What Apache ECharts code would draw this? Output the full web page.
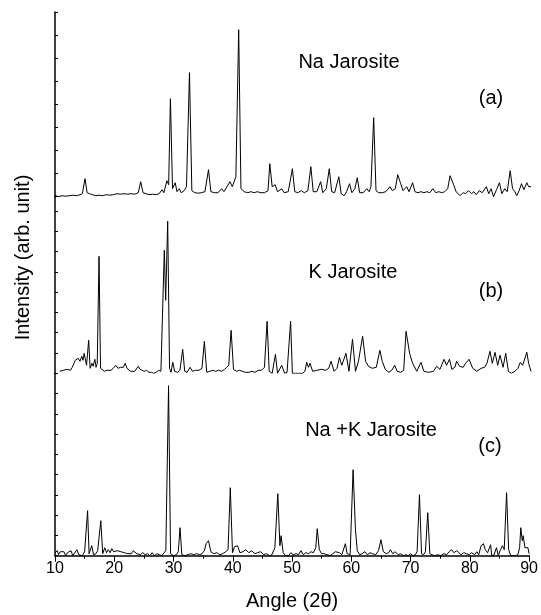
<!DOCTYPE html>
<html>
<head>
<meta charset="utf-8">
<script src="https://cdn.jsdelivr.net/npm/echarts@6/dist/echarts.min.js"></script>
<style>
  html, body { margin: 0; padding: 0; background: #fff; }
  #chart { width: 541px; height: 615px; }
</style>
</head>
<body>
<div id="chart"></div>
<script>
// x-ray diffraction patterns, [angle 2theta, intensity (arb.)]
const naJarosite = [
  [10.0,1],[10.6,0],[11.2,1],[11.8,0.5],[12.4,1],[13.0,1.5],[13.6,1],[14.2,2],[14.6,3],[15.04,18],[15.4,4],[15.8,3],
  [16.3,2],[16.8,1],[17.4,1.5],[18.0,1],[18.6,2],[19.2,1.5],[19.8,2],[20.4,3],[21.0,2.5],[21.6,3],[22.2,2.5],[22.8,3],
  [23.4,2.5],[24.0,4],[24.4,15],[24.8,4],[25.3,3],[25.8,2],[26.4,2.5],[27.0,2],[27.5,3],[28.0,7],[28.3,4],[28.8,16],
  [29.1,12],[29.4,98],[29.75,8],[30.2,14],[30.5,5],[30.9,8],[31.2,4],[31.7,6],[32.1,10],[32.6,124],[33.0,6],[33.5,4],
  [34.0,3.5],[34.6,4],[35.2,5],[35.8,27],[36.2,5],[36.8,4],[37.4,4],[38.0,8],[38.4,5],[38.9,10],[39.4,15],[39.8,10],
  [40.4,20],[40.87,167],[41.25,8],[41.8,5],[42.4,4],[42.9,5],[43.5,4],[44.0,5],[44.6,4],[45.2,4],[45.8,6],[46.1,33],
  [46.5,10],[47.0,12],[47.4,5],[48.1,8],[48.5,4],[49.2,5],[49.9,28],[50.3,5],[50.8,4],[51.4,6],[51.9,4],[52.5,6],
  [53.0,30],[53.4,5],[54.0,5],[54.65,15],[55.0,4],[55.6,8],[56.1,28],[56.5,5],[57.0,4],[57.7,20],[58.1,3],[58.6,1],
  [59.0,5],[59.5,13],[59.9,4],[60.4,8],[60.8,19],[61.2,4],[61.8,4],[62.4,8],[62.8,5],[63.1,10],[63.56,79],[63.95,6],
  [64.4,4],[65.0,4],[65.6,5],[66.3,10],[66.7,6],[67.2,8],[67.6,22],[68.1,13],[68.5,6],[69.1,10],[69.5,5],[70.1,14],
  [70.5,5],[71.0,4],[71.5,5],[72.0,4],[72.5,5],[73.0,4],[73.5,8],[74.0,4],[74.5,5],[75.0,4],[75.5,5],[76.0,8],
  [76.4,21],[77.0,12],[77.4,5],[78.1,1],[78.6,4],[79.0,3],[79.5,6],[80.0,3],[80.4,5],[80.8,2],[81.3,6],[81.8,4],
  [82.5,10],[82.9,3],[83.3,8],[83.7,0],[84.2,7],[84.7,14],[85.1,3],[85.6,8],[86.0,5],[86.5,26],[86.9,8],[87.3,5],
  [87.6,1],[88.0,6],[88.4,13],[88.8,7],[89.3,14],[89.6,10],[90.0,10]
];

const kJarosite = [
  [10.8,2],[11.1,1],[11.4,3],[11.7,1],[12.0,4],[12.3,2],[12.6,3],[12.9,6],[13.2,10],[13.4,13],[13.6,11],[13.9,15],
  [14.2,12],[14.5,17],[14.7,13],[14.9,20],[15.1,22],[15.3,8],[15.66,33],[15.9,5],[16.2,10],[16.4,7],[16.7,14],[16.9,6],
  [17.1,10],[17.4,117],[17.65,5],[17.9,3],[18.3,2],[18.7,3],[19.0,2],[19.4,3],[19.8,5],[20.2,8],[20.6,5],[21.0,6],
  [21.3,8],[21.5,6],[21.8,10],[22.1,5],[22.4,4],[22.7,2],[23.0,1],[23.4,2],[23.7,3],[24.0,7],[24.3,4],[24.6,5],
  [25.0,2],[25.4,3],[25.8,1],[26.2,1],[26.6,0],[27.0,1],[27.4,3],[27.8,2],[28.0,4],[28.37,123],[28.6,73],[28.94,152],
  [29.25,5],[29.5,1],[29.8,11],[30.1,2],[30.6,1],[31.0,3],[31.46,24],[31.8,2],[32.2,1],[32.7,6],[33.1,2],[33.6,3],
  [34.2,3],[34.7,5],[35.1,32],[35.5,1],[36.0,2],[36.5,3],[37.0,2],[37.5,3],[38.0,2],[38.5,4],[38.85,6],[39.2,8],
  [39.6,43],[40.0,4],[40.5,2],[41.0,3],[41.5,2],[42.0,1],[42.6,1],[43.1,2],[43.6,1],[44.2,3],[44.7,3],[45.2,6],
  [45.65,52],[46.0,2],[46.5,0],[47.05,19],[47.4,0],[48.1,8],[48.6,0],[49.0,1],[49.6,52],[49.9,0],[50.4,0],[51.0,0],
  [51.6,0],[52.0,2],[52.3,11],[52.6,6],[52.86,10],[53.3,2],[54.0,3],[54.8,4],[55.5,3],[56.0,5],[56.4,12],[56.9,2],
  [57.4,5],[57.8,16],[58.2,8],[58.9,20],[59.4,2],[60.0,34],[60.5,2],[61.0,12],[61.7,37],[62.2,12],[62.7,7],[63.3,5],
  [64.0,6],[64.6,23],[65.0,12],[65.5,4],[66.1,1],[66.6,3],[67.1,8],[67.5,2],[68.1,1],[68.6,3],[69.0,42],[69.6,20],
  [70.1,10],[70.8,2],[71.5,11],[72.0,2],[72.8,1],[73.6,2],[74.15,7],[74.7,4],[75.4,14],[75.8,8],[76.3,14],[76.7,4],
  [77.2,6],[77.5,12],[78.0,7],[78.6,6],[79.0,10],[79.6,14],[80.2,5],[80.9,2],[81.6,5],[82.2,6],[82.6,10],[83.1,22],
  [83.5,10],[83.95,21],[84.4,8],[84.8,18],[85.3,6],[85.75,20],[86.2,2],[86.7,0],[87.3,2],[87.8,5],[88.2,11],[88.6,8],
  [89.3,21],[89.6,10],[90.0,2]
];

const naKJarosite = [
  [10.0,3],[10.2,1],[10.4,5],[10.6,1],[10.9,4],[11.2,2],[11.5,4],[11.8,0],[12.1,3],[12.4,1],[12.7,5],[13.0,0],
  [13.3,2],[13.7,6],[14.0,1],[14.3,3],[14.6,0],[15.0,4],[15.3,6],[15.5,45],[15.75,2],[16.2,10],[16.5,1],[16.9,2],
  [17.2,5],[17.73,35],[18.05,2],[18.4,8],[18.7,3],[19.0,6],[19.3,3],[19.6,7],[19.9,4],[20.2,6],[20.5,5],[20.8,7],
  [21.1,4],[21.4,6],[21.7,3],[22.0,5],[22.3,2],[22.6,4],[22.9,2],[23.2,5],[23.5,3],[23.8,2],[24.1,4],[24.4,1],
  [24.8,3],[25.2,1],[25.6,2],[26.0,0],[26.4,3],[26.8,0],[27.2,2],[27.6,1],[28.0,0],[28.3,2],[28.7,5],[29.16,170],
  [29.5,2],[30.0,0],[30.5,1],[30.8,4],[31.1,28],[31.4,1],[31.9,0],[32.4,1],[32.9,2],[33.4,1],[33.9,2],[34.4,1],
  [34.8,2],[35.2,5],[35.5,12],[35.9,15],[36.3,4],[36.8,2],[37.3,3],[37.8,1],[38.3,2],[38.8,4],[39.2,6],[39.58,68],
  [39.95,3],[40.3,9],[40.8,10],[41.2,3],[41.7,4],[42.2,6],[42.7,3],[43.2,5],[43.7,2],[44.2,3],[44.7,4],[45.2,1],
  [45.7,2],[46.2,0],[46.6,1],[47.1,8],[47.6,62],[47.95,10],[48.15,20],[48.5,3],[48.9,0],[49.4,0],[49.8,3],[50.2,1],
  [50.7,2],[51.1,1],[51.5,5],[51.9,1],[52.3,3],[52.8,2],[53.2,4],[53.6,3],[54.0,8],[54.25,27],[54.6,6],[55.0,2],
  [55.4,2],[55.9,1],[56.4,0],[56.9,2],[57.3,4],[57.6,6],[58.0,3],[58.4,1],[58.7,3],[59.0,12],[59.3,2],[59.8,1],
  [60.3,86],[60.7,26],[61.0,5],[61.4,1],[61.8,2],[62.3,4],[62.7,1],[63.2,3],[63.6,2],[64.1,1],[64.6,5],[65.0,16],
  [65.4,4],[65.9,2],[66.3,3],[66.6,6],[67.0,2],[67.4,4],[67.9,1],[68.3,2],[68.8,0],[69.2,1],[69.6,0],[70.0,2],
  [70.4,0],[70.8,1],[71.1,4],[71.5,61],[71.85,2],[72.2,1],[72.5,4],[72.9,43],[73.25,2],[73.6,1],[74.1,0],[74.6,1],
  [75.1,0],[75.6,2],[76.1,1],[76.5,4],[76.9,6],[77.3,3],[77.8,5],[78.1,4],[78.5,1],[79.0,3],[79.4,2],[79.9,1],
  [80.3,3],[80.8,1],[81.2,4],[81.5,1],[81.9,10],[82.3,12],[82.6,6],[83.0,3],[83.3,2],[83.5,11],[83.7,0],[84.1,1],
  [84.5,8],[84.8,0],[85.1,5],[85.5,10],[85.8,6],[86.2,63],[86.55,6],[86.9,0],[87.3,0],[87.7,0],[88.1,1],[88.4,8],
  [88.6,28],[88.85,15],[89.0,20],[89.3,8],[89.6,10],[89.8,8],[90.0,2]
];

const panelNames = ['Na Jarosite', 'K Jarosite', 'Na +K Jarosite'];
const panelTags = ['(a)', '(b)', '(c)'];
const angleTicks = [10, 20, 30, 40, 50, 60, 70, 80, 90];

const font = 'Liberation Sans, Arial, sans-serif';
const chart = echarts.init(document.getElementById('chart'));

// panel layout: top, height (px) and y-range/tick step
const panels = [
  {top: 12, height: 184.7, max: 184.7, step: 23.1},
  {top: 196.7, height: 176.6, max: 176.6, step: 20.3},
  {top: 373.3, height: 182.4, max: 182.4, step: 20.27}
];
const seriesData = [naJarosite, kJarosite, naKJarosite];

const yAxisBase = {
  type: 'value', min: 0,
  axisLine: {show: true, lineStyle: {color: '#000', width: 1.5}},
  axisTick: {show: true, inside: true, length: 3, lineStyle: {color: '#000', width: 1}},
  axisLabel: {show: false},
  splitLine: {show: false}
};

const option = {
  animation: false,
  backgroundColor: '#fff',
  grid: panels.map(p => ({left: 55, right: 10, top: p.top, height: p.height})),
  xAxis: panels.map((p, i) => ({
    type: 'value', gridIndex: i, min: angleTicks[0], max: angleTicks[angleTicks.length - 1], interval: 10,
    show: i === 2,
    name: i === 2 ? 'Angle (2θ)' : '',
    nameLocation: 'middle', nameGap: 36,
    nameTextStyle: {fontSize: 20, color: '#000', fontFamily: font},
    axisLine: {show: true, onZero: false, lineStyle: {color: '#000', width: 1.5}},
    axisTick: {show: true, inside: false, length: 6, lineStyle: {color: '#000', width: 1}},
    minorTick: {show: true, splitNumber: 2, length: 3, lineStyle: {color: '#000', width: 1}},
    axisLabel: {fontSize: 16, color: '#000', fontFamily: font, margin: 5},
    splitLine: {show: false}
  })),
  yAxis: panels.map((p, i) => Object.assign({}, yAxisBase, {gridIndex: i, max: p.max, interval: p.step})),
  series: seriesData.map((d, i) => ({
    type: 'line', xAxisIndex: i, yAxisIndex: i, data: d,
    showSymbol: false, symbol: 'none',
    lineStyle: {color: '#000', width: 1},
    z: 3
  })),
  graphic: [
    {type: 'text', x: 349, y: 62, style: {text: panelNames[0], font: '20px ' + font, fill: '#000', textAlign: 'center', textVerticalAlign: 'middle'}},
    {type: 'text', x: 491, y: 98, style: {text: panelTags[0], font: '20px ' + font, fill: '#000', textAlign: 'center', textVerticalAlign: 'middle'}},
    {type: 'text', x: 353, y: 272, style: {text: panelNames[1], font: '20px ' + font, fill: '#000', textAlign: 'center', textVerticalAlign: 'middle'}},
    {type: 'text', x: 491, y: 291, style: {text: panelTags[1], font: '20px ' + font, fill: '#000', textAlign: 'center', textVerticalAlign: 'middle'}},
    {type: 'text', x: 371, y: 430, style: {text: panelNames[2], font: '20px ' + font, fill: '#000', textAlign: 'center', textVerticalAlign: 'middle'}},
    {type: 'text', x: 490, y: 446, style: {text: panelTags[2], font: '20px ' + font, fill: '#000', textAlign: 'center', textVerticalAlign: 'middle'}},
    {type: 'text', x: 23, y: 257.5, rotation: Math.PI / 2, style: {text: 'Intensity (arb. unit)', font: '20px ' + font, fill: '#000', textAlign: 'center', textVerticalAlign: 'middle'}}
  ]
};

chart.setOption(option);
</script>
</body>
</html>
